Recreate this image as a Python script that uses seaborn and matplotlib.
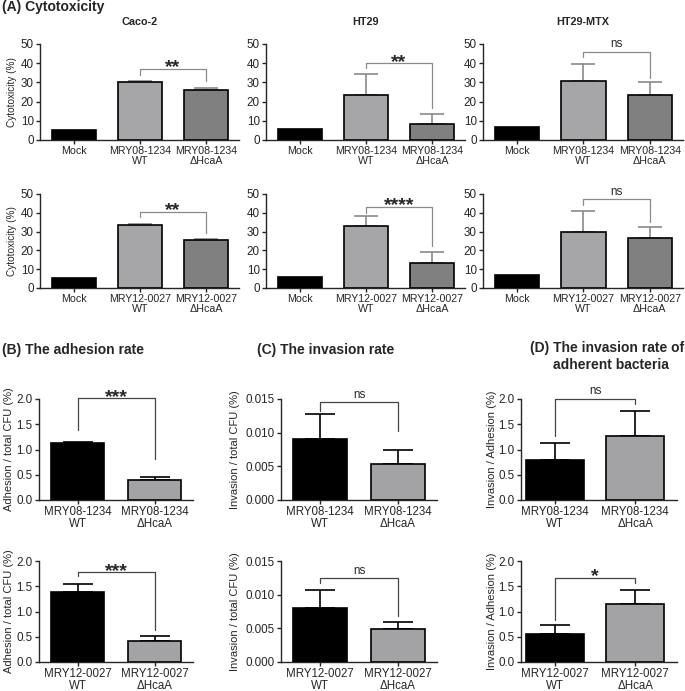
import matplotlib
matplotlib.use("Agg")
import matplotlib.pyplot as plt
import seaborn as sns
import pandas as pd

# ---------------- data ----------------
CELL_LINES = ["Caco-2", "HT29", "HT29-MTX"]
STRAINS = ["MRY08-1234", "MRY12-0027"]

# (A) cytotoxicity (%) : Mock, WT, dHcaA per cell line
CYTO_08_MEAN = [[5.3, 30.1, 26.2], [5.8, 23.3, 8.5], [6.8, 30.9, 23.6]]
CYTO_08_ERR = [[0, 0.8, 0.8], [0, 11.2, 5.0], [0, 8.7, 6.6]]
CYTO_12_MEAN = [[5.1, 33.6, 25.4], [5.8, 33.2, 13.1], [7.0, 29.7, 26.5]]
CYTO_12_ERR = [[0, 0.7, 0.8], [0, 5.3, 6.3], [0, 11.5, 5.7]]
CYTO_08_SIG = ["**", "**", "ns"]
CYTO_12_SIG = ["**", "****", "ns"]
# bracket level, left leg end, right leg end
CYTO_08_BRACKET = [[37.0, 34.0, 30.5], [40.1, 37.5, 16.7], [45.8, 43.2, 32.3]]
CYTO_12_BRACKET = [[40.6, 37.5, 29.5], [43.3, 39.8, 22.1], [47.2, 44.2, 35.3]]

# (B) adhesion rate : WT, dHcaA
ADH_08_MEAN = [1.12, 0.40]
ADH_08_ERR = [0.03, 0.05]
ADH_12_MEAN = [1.39, 0.41]
ADH_12_ERR = [0.15, 0.10]
ADH_SIG = ["***", "***"]
ADH_BRACKET = [[2.01, 1.39, 0.81], [1.78, 1.71, 0.64]]

# (C) invasion rate
INV_08_MEAN = [0.0090, 0.0053]
INV_08_ERR = [0.0037, 0.0022]
INV_12_MEAN = [0.0080, 0.0049]
INV_12_ERR = [0.0027, 0.0011]
INV_SIG = ["ns", "ns"]
INV_BRACKET = [[0.0145, 0.0132, 0.0102], [0.01245, 0.0117, 0.0068]]

# (D) invasion rate of adherent bacteria
IA_08_MEAN = [0.79, 1.27]
IA_08_ERR = [0.34, 0.50]
IA_12_MEAN = [0.56, 1.15]
IA_12_ERR = [0.18, 0.28]
IA_SIG = ["ns", "*"]
IA_BRACKET = [[2.0, 1.26, 1.90], [1.67, 0.84, 1.57]]

# ---------------- style ----------------
sns.set_style("ticks")
plt.rcParams["font.family"] = ["Liberation Sans", "DejaVu Sans"]
plt.rcParams["axes.linewidth"] = 1.0

W, H = 685, 691
fig = plt.figure(figsize=(W / 100, H / 100), dpi=100)

A_COLORS = ["#000000", "#a6a6a9", "#808080"]
BD_COLORS = ["#000000", "#a3a3a6"]
A_GRAY = "#8a8a8a"


def px_axes(x0, x1, y0, y1):
    return fig.add_axes([x0 / W, 1 - y1 / H, (x1 - x0) / W, (y1 - y0) / H])


def bar_panel(ax, labels, means, errs, colors, ecolor, capsize, width, xlim, xsize):
    df = pd.DataFrame({"group": labels, "value": means})
    sns.barplot(data=df, x="group", y="value", hue="group", palette=colors,
                legend=False, width=width, saturation=1, edgecolor="black",
                linewidth=1.2, errorbar=None, ax=ax, zorder=3)
    idx = [i for i, e in enumerate(errs) if e > 0]
    ax.errorbar(idx, [means[i] for i in idx],
                yerr=[[0] * len(idx), [errs[i] for i in idx]],
                fmt="none", ecolor=ecolor, elinewidth=1.2, capsize=capsize,
                capthick=1.2, zorder=2)
    ax.set_xlim(*xlim)
    ax.set_xlabel("")
    ax.set_ylabel("")
    sns.despine(ax=ax)
    ax.tick_params(axis="both", direction="out", length=3, width=1, pad=1.5)
    ax.tick_params(axis="x", labelsize=xsize, pad=1)
    ax.tick_params(axis="y", labelsize=8.4)
    for lab in ax.get_xticklabels():
        lab.set_linespacing(1.0)


def bracket(ax, x1, x2, levels, text, color):
    y, yl, yr = levels
    ax.plot([x1, x1, x2, x2], [yl, y, y, yr], color=color, lw=0.9,
            clip_on=False, zorder=4)
    if text == "ns":
        ax.annotate(text, xy=((x1 + x2) / 2, y), xytext=(0, 3.3),
                    textcoords="offset points", ha="center", va="baseline",
                    fontsize=8.4, annotation_clip=False)
    else:
        ax.annotate(text, xy=((x1 + x2) / 2, y), xytext=(0, -2.6),
                    textcoords="offset points", ha="center", va="baseline",
                    fontsize=14, fontweight="bold", annotation_clip=False)


# ---------------- (A) cytotoxicity ----------------
fig.text(2 / W, 1 - 7 / H, "(A) Cytotoxicity", fontsize=10, fontweight="bold",
         ha="left", va="center")

A_X = [(40, 239), (266, 465), (483, 683)]
A_Y = [(44, 140), (194, 288)]
rows = [(STRAINS[0], CYTO_08_MEAN, CYTO_08_ERR, CYTO_08_SIG, CYTO_08_BRACKET),
        (STRAINS[1], CYTO_12_MEAN, CYTO_12_ERR, CYTO_12_SIG, CYTO_12_BRACKET)]

for r, (strain, means, errs, sigs, brks) in enumerate(rows):
    labels = ["Mock", f"{strain}\nWT", f"{strain}\nΔHcaA"]
    for c, cell in enumerate(CELL_LINES):
        ax = px_axes(A_X[c][0], A_X[c][1], A_Y[r][0], A_Y[r][1])
        bar_panel(ax, labels, means[c], errs[c], A_COLORS, A_GRAY, 8.5, 0.67,
                  (-0.515, 2.5), 7.7)
        ax.set_ylim(0, 50)
        ax.set_yticks([0, 10, 20, 30, 40, 50])
        bracket(ax, 1, 2, brks[c], sigs[c], A_GRAY)
        if c == 0:
            ax.set_ylabel("Cytotoxicity (%)", fontsize=7.2)
            ax.yaxis.set_label_coords((17 - 40) / 199, 0.5)
        if r == 0:
            ax.set_title(cell, fontsize=7.8, fontweight="bold", pad=14)

# ---------------- (B)(C)(D) ----------------
fig.text(2 / W, 1 - 350 / H, "(B) The adhesion rate", fontsize=10,
         fontweight="bold", ha="left", va="center")
fig.text(257 / W, 1 - 350 / H, "(C) The invasion rate", fontsize=10,
         fontweight="bold", ha="left", va="center")
fig.text(530 / W, 1 - 348 / H, "(D) The invasion rate of", fontsize=10,
         fontweight="bold", ha="left", va="center")
fig.text(553 / W, 1 - 365 / H, "adherent bacteria", fontsize=10,
         fontweight="bold", ha="left", va="center")

BD_Y = [(399, 500), (561, 662)]
panels = [
    ((39, 193), (-0.5, 1.5), 0.68, [(ADH_08_MEAN, ADH_08_ERR), (ADH_12_MEAN, ADH_12_ERR)],
     ADH_SIG, ADH_BRACKET, (0, 2.0), [0, 0.5, 1.0, 1.5, 2.0], "{:.1f}",
     "Adhesion / total CFU (%)", 14),
    ((281, 437), (-0.5, 1.5), 0.68, [(INV_08_MEAN, INV_08_ERR), (INV_12_MEAN, INV_12_ERR)],
     INV_SIG, INV_BRACKET, (0, 0.015), [0, 0.005, 0.010, 0.015], "{:.3f}",
     "Invasion / total CFU (%)", 240),
    ((521, 677), (-0.42, 1.52), 0.72, [(IA_08_MEAN, IA_08_ERR), (IA_12_MEAN, IA_12_ERR)],
     IA_SIG, IA_BRACKET, (0, 2.0), [0, 0.5, 1.0, 1.5, 2.0], "{:.1f}",
     "Invasion / Adhesion (%)", 497),
]

for (x0, x1), xlim, width, data, sigs, brks, ylim, yticks, fmt, ylab, labx in panels:
    for r, strain in enumerate(STRAINS):
        ax = px_axes(x0, x1, BD_Y[r][0], BD_Y[r][1])
        means, errs = data[r]
        labels = [f"{strain}\nWT", f"{strain}\nΔHcaA"]
        bar_panel(ax, labels, means, errs, BD_COLORS, "black", 11, width, xlim, 8.3)
        ax.set_ylim(*ylim)
        ax.set_yticks(yticks)
        ax.set_yticklabels([fmt.format(t) for t in yticks])
        bracket(ax, 0, 1, brks[r], sigs[r], "#444444")
        ax.set_ylabel(ylab, fontsize=8)
        ax.yaxis.set_label_coords((labx - x0) / (x1 - x0), 0.5)

fig.savefig("out.png", dpi=100)
